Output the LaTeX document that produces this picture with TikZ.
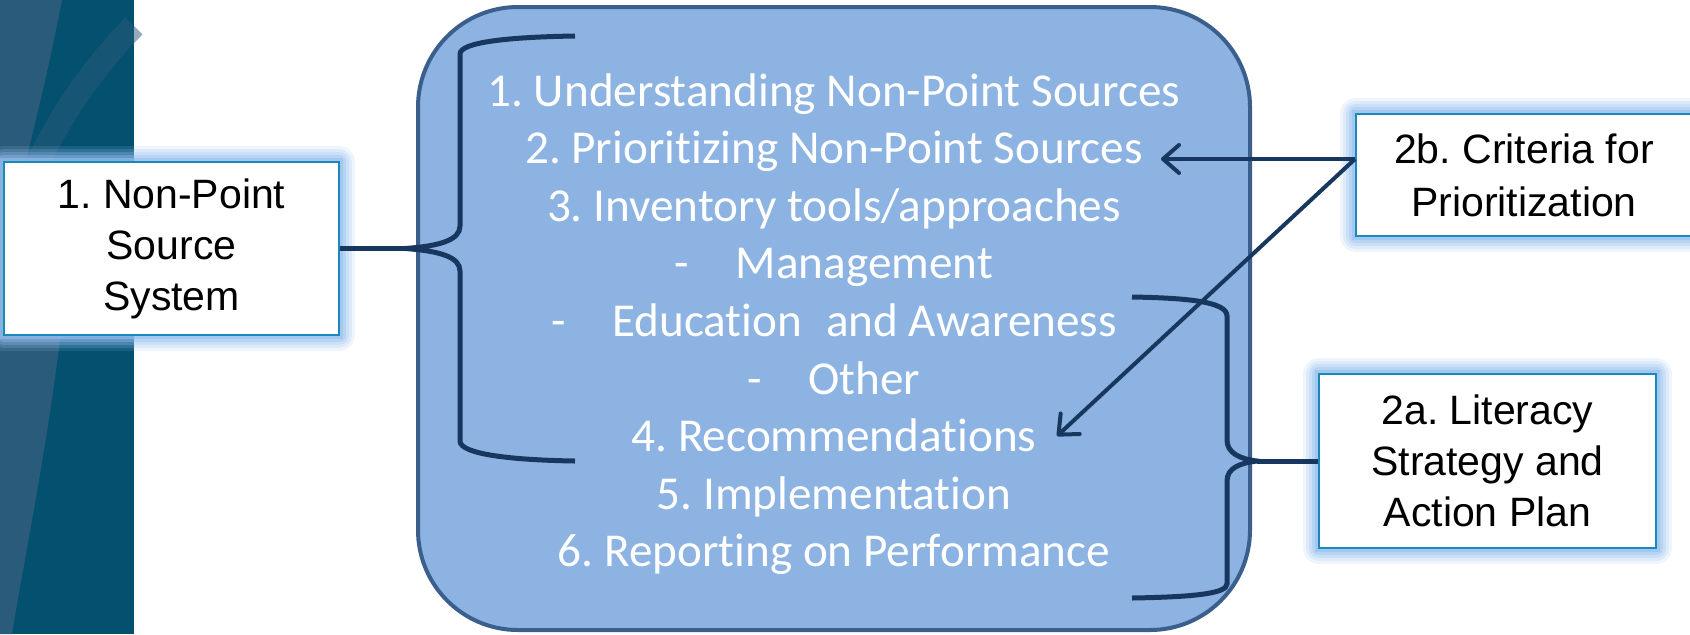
\documentclass[tikz,border=0pt]{standalone}
\usepackage{fontspec}
\setmainfont{Liberation Sans}
\font\listfont="Carlito:-liga;-clig;-rlig;-dlig;-calt;-ccmp" at 23.6pt
\usetikzlibrary{arrows.meta}
\definecolor{StripClr}{RGB}{3,80,111}
\definecolor{StripLightClr}{RGB}{42,91,122}
\definecolor{PanelClr}{RGB}{141,179,226}
\definecolor{PanelLineClr}{RGB}{58,95,140}
\definecolor{BraceClr}{RGB}{23,55,94}
\definecolor{BoxLineClr}{RGB}{24,137,185}
\definecolor{GlowClr}{RGB}{150,192,240}
\frenchspacing

\begin{document}
\begin{tikzpicture}[x=0.5pt,y=-0.5pt,
  box/.style={draw=BoxLineClr,line width=1pt,fill=white,align=center,inner sep=0pt,
    font=\fontsize{20.5}{25.5}\selectfont,
    preaction={draw=GlowClr,line width=16pt,opacity=.15,line join=round},
    preaction={draw=GlowClr,line width=13pt,opacity=.2,line join=round},
    preaction={draw=GlowClr,line width=10pt,opacity=.25,line join=round},
    preaction={draw=GlowClr,line width=7pt,opacity=.35,line join=round},
    preaction={draw=GlowClr,line width=4pt,opacity=.6}},
  item/.style={anchor=base,text=white,inner sep=0pt,font=\listfont},
  brace/.style={draw=BraceClr,line width=2.5pt},
  link/.style={draw=BraceClr,line width=2pt,-{Straight Barb[length=8pt,width=14pt,round]}}]
\useasboundingbox (0,0) rectangle (1690,634);
\fill[white] (0,0) rectangle (1690,634);

\fill[StripClr] (0,0) rectangle (134,634);
\fill[StripLightClr] (0,0) -- (62,0) .. controls (45,90) and (20,180) .. (0,275) -- cycle;
\draw[StripLightClr,line width=12pt,opacity=.5] (134,26) .. controls (95,65) and (50,125) .. (20,205);
\fill[StripLightClr] (0,210) .. controls (55,260) and (70,300) .. (60,340)
  .. controls (45,460) and (24,560) .. (12,634) -- (0,634) -- cycle;

\node (panel) [draw=PanelLineClr,fill=PanelClr,line width=2pt,rounded corners=50pt,
  minimum width=416pt,minimum height=311.5pt,inner sep=0pt] at (834,318.5) {};

\foreach \txt [count=\i] in {1. Understanding Non-Point Sources,
    2. Prioritizing Non-Point Sources,
    3. Inventory tools/approaches,
    {\makebox[30.5pt][l]{-}Management},
    {\makebox[30.5pt][l]{-}Education\hspace{12pt}and Awareness},
    {\makebox[30.5pt][l]{-}Other},
    4. Recommendations,
    5. Implementation,
    6. Reporting on Performance}
  \node[item] (l\i) at (834,48.4+57.6*\i) {\txt};

\node (nps) [box,minimum width=167.5pt,minimum height=86.5pt] at (171.5,248.5)
  {1. Non-Point\\Source\\System};
\node (crit) [box,font=\fontsize{20.5}{26.5}\selectfont,minimum width=168pt,
  minimum height=61pt] at (1524,175) {2b. Criteria for\\Prioritization};
\node (lit) [box,minimum width=168.5pt,minimum height=87pt] at (1487.5,461)
  {2a. Literacy\\Strategy and\\Action Plan};

\coordinate (lcusp) at (405,248.5);
\draw[brace] (575,36) .. controls (510,37) and (460,42) .. (460,54) -- (460,226)
  .. controls (460,240) and (440,246) .. (lcusp)
  .. controls (440,251) and (460,257) .. (460,271) -- (460,441)
  .. controls (460,454) and (510,460) .. (575,461);
\draw[brace] (lcusp) -- (nps);

\coordinate (rcusp) at (1257,461);
\draw[brace] (1132,297) .. controls (1190,298) and (1227,302) .. (1227,316) -- (1227,440)
  .. controls (1227,453) and (1240,459) .. (rcusp)
  .. controls (1240,463) and (1227,468) .. (1227,481) -- (1227,584)
  .. controls (1227,594) and (1190,597) .. (1132,598);
\draw[brace] (rcusp) -- (lit);

\coordinate (src) at ([yshift=8pt]crit.west);
\coordinate (tipA) at (1161,159);
\coordinate (tipB) at (1057,436);
\draw[link] (src) -- (tipA);
\draw[link] (src) -- (tipB);
\end{tikzpicture}
\end{document}
